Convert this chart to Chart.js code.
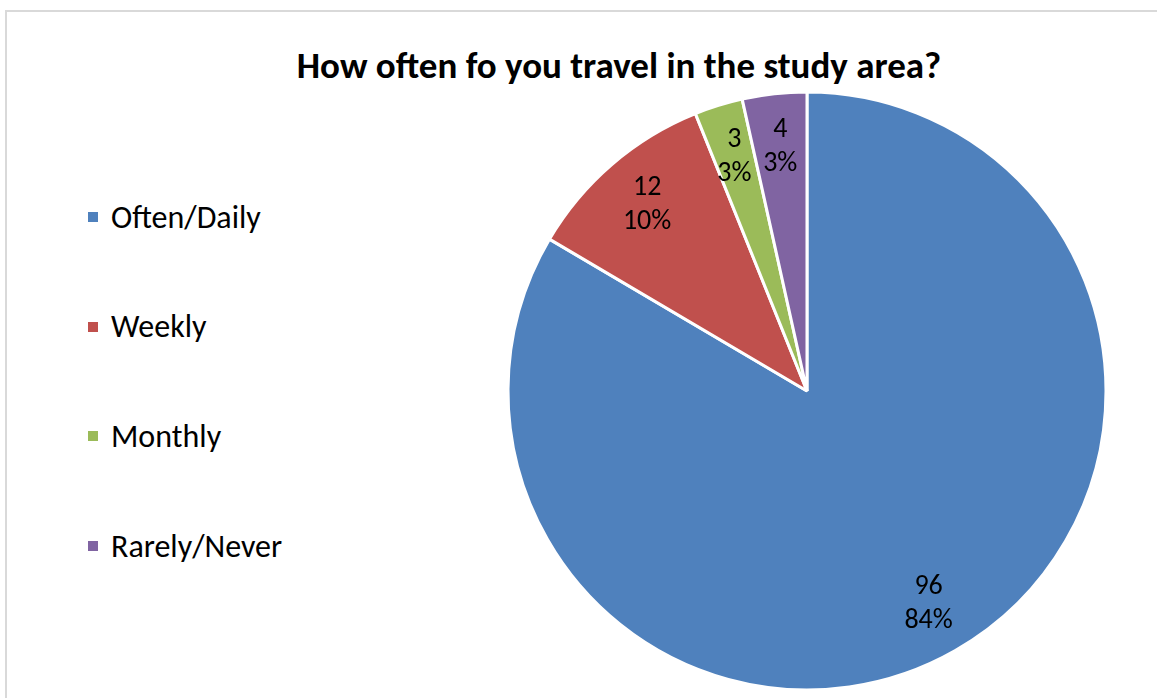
<!DOCTYPE html>
<html>
<head>
<meta charset="utf-8">
<title>Fréquence de déplacement</title>
<script src="https://cdn.jsdelivr.net/npm/chart.js@4.4.0/dist/chart.umd.min.js"></script>
<style>
  body { margin: 0; width: 1157px; height: 698px; overflow: hidden; position: relative; background: #fff; font-family: Carlito, Lato, sans-serif; }
  #cadre { position: absolute; left: 5px; top: 10px; width: 1200px; height: 740px; border-left: 2px solid #d9d9d9; border-top: 2px solid #d9d9d9; }
  #titre { position: absolute; left: 219px; width: 800px; top: 44px; margin: 0; text-align: center; font-size: 37px; line-height: 44px; font-weight: bold; color: #000; }
  #legende { position: absolute; left: 88px; top: 0; margin: 0; padding: 0; list-style: none; }
  #legende li { position: absolute; left: 0; white-space: nowrap; display: flex; align-items: center; height: 40px; font-size: 32px; color: #000; }
  #legende li span { display: inline-block; width: 10px; height: 10px; margin-right: 13px; }
  canvas { position: absolute; left: 0; top: 0; }
</style>
</head>
<body>
<div id="cadre"></div>
<h1 id="titre">How often fo you travel in the study area?</h1>
<ul id="legende"></ul>
<canvas id="canva" width="1157" height="698"></canvas>
<script>
var categories = ['Often/Daily', 'Weekly', 'Monthly', 'Rarely/Never'];
var reponses = [96, 12, 3, 4];
var couleurs = ['#4F81BD', '#C0504D', '#9BBB59', '#8064A2'];

// pourcentages arrondis pour que le total fasse 100 (plus grands restes)
function pourcentages(valeurs) {
    var total = valeurs.reduce((a, b) => a + b, 0);
    var bruts = valeurs.map(v => v / total * 100);
    var arrondis = bruts.map(Math.floor);
    var reste = 100 - arrondis.reduce((a, b) => a + b, 0);
    var ordre = bruts.map((b, i) => i).sort((a, b) => (bruts[b] - arrondis[b]) - (bruts[a] - arrondis[a]));
    for (let k = 0; k < reste; k++) arrondis[ordre[k]]++;
    return arrondis;
}

// valeur + pourcentage dans chaque part
const etiquettes = {
    id: 'etiquettes',
    afterDatasetsDraw(chart) {
        const ctx = chart.ctx;
        const meta = chart.getDatasetMeta(0);
        const data = chart.data.datasets[0].data;
        const pct = pourcentages(data);
        ctx.save();
        ctx.font = '28px Carlito, Lato, sans-serif';
        ctx.fillStyle = '#000';
        ctx.textAlign = 'center';
        ctx.textBaseline = 'middle';
        meta.data.forEach((arc, i) => {
            const p = arc.getProps(['x', 'y', 'startAngle', 'endAngle', 'outerRadius'], true);
            const milieu = (p.startAngle + p.endAngle) / 2;
            const r = p.outerRadius * 0.82;
            const x = p.x + Math.cos(milieu) * r;
            const y = p.y + Math.sin(milieu) * r;
            ctx.fillText(data[i], x, y - 17);
            ctx.fillText(pct[i] + '%', x, y + 17);
        });
        ctx.restore();
    }
};

const ctx = document.getElementById('canva');
var canva = new Chart(ctx, {
    type: 'pie',
    data: {
        labels: categories,
        datasets: [{
            data: reponses,
            backgroundColor: couleurs,
            borderColor: '#fff',
            borderWidth: 3
        }]
    },
    options: {
        responsive: false,
        animation: false,
        radius: 299,
        layout: {
            padding: { left: 457, right: 0, top: 92, bottom: 8 }
        },
        plugins: {
            legend: { display: false },
            tooltip: { enabled: false }
        }
    },
    plugins: [etiquettes]
});

// légende à gauche, construite depuis le graphique
var liste = document.getElementById('legende');
canva.data.labels.forEach((nom, i) => {
    var li = document.createElement('li');
    li.style.top = (217 + i * 109.7 - 20) + 'px';
    var carre = document.createElement('span');
    carre.style.background = canva.data.datasets[0].backgroundColor[i];
    li.appendChild(carre);
    li.appendChild(document.createTextNode(nom));
    liste.appendChild(li);
});
</script>
</body>
</html>
